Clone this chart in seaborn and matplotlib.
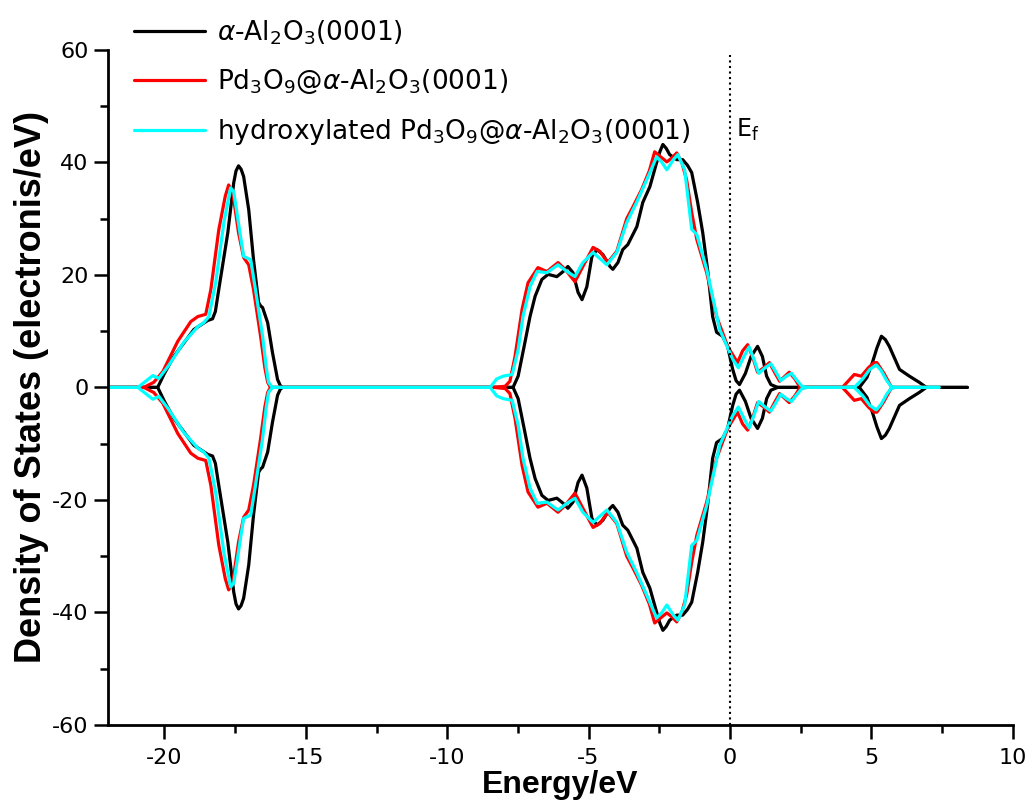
import numpy as np
import matplotlib
matplotlib.use("Agg")
import matplotlib.pyplot as plt
from matplotlib.ticker import MultipleLocator
import seaborn as sns

# spin-up DOS; spin-down is drawn as the mirror (negative) of it
al2o3_e = [-22, -20.24, -20.0, -19.67, -18.96, -18.47, -18.3, -18.2, -18.08, -17.76, -17.55, -17.47, -17.38,
           -17.29, -17.2, -17.02, -16.85, -16.67, -16.6, -16.53, -16.35, -16.18, -16.0, -15.9, -15.82,
           -7.67, -7.49, -7.25, -7.07, -6.89, -6.65, -6.43, -6.12, -5.9, -5.73, -5.55, -5.37, -5.23,
           -5.06, -4.88, -4.7, -4.49, -4.24, -4.14, -3.96, -3.79, -3.61, -3.29, -3.08, -2.83, -2.59,
           -2.47, -2.37, -2.25, -2.13, -1.88, -1.67, -1.5, -1.35, -1.14, -0.96, -0.79, -0.61, -0.47,
           -0.26, -0.08, 0.1, 0.22, 0.34, 0.55, 0.75, 0.98, 1.15, 1.3, 1.45, 1.69,
           4.58, 4.85, 5.04, 5.2, 5.36, 5.5, 5.64, 6.0, 6.35, 6.7, 6.95, 8.4]
al2o3_dos = [0, 0, 2.5, 5.5, 10.3, 11.9, 12.2, 13.5, 17.4, 27.5, 36.4, 38.5, 39.4,
             38.8, 37.5, 31.6, 22.7, 15.1, 14.5, 14.2, 11.5, 6.2, 1.4, 0.3, 0,
             0, 2.0, 8.0, 12.6, 16.2, 19.2, 20.1, 19.7, 20.6, 21.5, 20.4, 16.9, 15.6,
             17.9, 23.3, 24.5, 23.6, 21.5, 21.0, 22.2, 24.5, 25.4, 28.6, 32.9, 35.7, 40.0,
             42.0, 43.2, 42.5, 41.4, 40.5, 40.5, 39.5, 38.2, 32.9, 27.5, 21.0, 12.6, 9.8,
             9.1, 7.3, 3.2, 1.2, 0.5, 2.5, 5.5, 7.3, 5.5, 2.0, 0.5, 0,
             0, 1.8, 4.4, 7.0, 9.1, 8.5, 7.3, 3.2, 2.0, 0.9, 0, 0]

pd_e = [-22, -20.73, -20.38, -20.06, -19.53, -19.07, -18.82, -18.54, -18.36, -18.08, -17.85, -17.73,
        -17.59, -17.38, -17.2, -17.02, -16.85, -16.6, -16.45, -16.35, -16.25,
        -8.36, -7.95, -7.78, -7.6, -7.35, -7.14, -6.79, -6.47, -6.08, -5.83, -5.48, -5.2, -4.84,
        -4.6, -4.32, -4.0, -3.65, -3.43, -3.12, -2.85, -2.66, -2.45, -2.23, -2.05, -1.88, -1.7,
        -1.53, -1.35, -1.17, -0.82, -0.47, -0.08, 0.27, 0.45, 0.63, 0.8, 0.98, 1.2, 1.4, 1.58,
        1.76, 1.95, 2.1, 2.3, 2.46, 2.7,
        3.98, 4.2, 4.4, 4.65, 4.9, 5.1, 5.2, 5.45, 5.7, 5.8, 7.0]
pd_dos = [0, 0, 0.9, 2.8, 8.2, 11.7, 12.6, 13.0, 17.4, 28.0, 34.0, 36.0,
          34.8, 27.5, 23.1, 21.8, 17.4, 9.1, 3.5, 0.9, 0,
          0, 0.2, 1.1, 5.5, 13.9, 18.6, 21.3, 20.6, 22.2, 21.0, 18.8, 21.5, 24.9,
          24.2, 22.2, 24.2, 30.0, 32.1, 35.2, 38.5, 41.9, 41.0, 40.1, 40.8, 41.7, 40.0,
          36.9, 31.1, 26.3, 20.4, 12.6, 7.3, 4.4, 6.5, 7.6, 5.5, 2.7, 3.5, 4.4, 2.7,
          1.1, 2.0, 2.7, 1.5, 0.2, 0,
          0, 1.2, 2.3, 2.0, 3.5, 4.4, 4.4, 2.5, 0.2, 0, 0]

hyd_e = [-22, -20.94, -20.59, -20.41, -20.2, -19.88, -19.32, -18.82, -18.61, -18.43, -18.19, -17.9,
         -17.66, -17.55, -17.31, -17.2, -16.95, -16.78, -16.53, -16.4, -16.32, -16.18,
         -8.48, -8.25, -8.02, -7.7, -7.49, -7.32, -7.07, -6.82, -6.47, -6.08, -5.76, -5.48, -5.2,
         -4.84, -4.35, -4.0, -3.65, -3.29, -2.83, -2.59, -2.4, -2.23, -2.0, -1.84, -1.6, -1.35,
         -1.17, -0.82, -0.36, 0.1, 0.3, 0.5, 0.68, 0.85, 1.02, 1.25, 1.45, 1.62, 1.8, 2.0, 2.18,
         2.38, 2.55, 2.75,
         4.4, 4.7, 4.95, 5.18, 5.35, 5.55, 5.7, 5.85, 7.4]
hyd_dos = [0, 0, 1.4, 2.1, 1.6, 3.7, 8.0, 10.8, 11.5, 12.6, 18.6, 29.3,
           35.5, 34.8, 26.8, 23.3, 22.7, 17.4, 9.1, 3.5, 0.9, 0,
           0, 1.5, 2.0, 2.3, 6.7, 12.6, 17.9, 20.6, 20.4, 21.8, 20.6, 19.7, 22.2,
           24.0, 21.8, 24.0, 29.3, 33.0, 38.2, 41.0, 40.0, 38.7, 40.5, 41.4, 38.7, 28.1,
           27.2, 21.0, 10.3, 5.0, 3.5, 5.5, 7.2, 5.0, 2.5, 3.5, 4.2, 2.8, 1.2, 2.0, 2.5,
           1.2, 0.2, 0,
           0, 1.5, 3.2, 4.0, 3.0, 1.2, 0.2, 0, 0]

series = [
    (al2o3_e, al2o3_dos, "black", r"$\alpha$-Al$_2$O$_3$(0001)"),
    (pd_e, pd_dos, "#ff0000", r"Pd$_3$O$_9$@$\alpha$-Al$_2$O$_3$(0001)"),
    (hyd_e, hyd_dos, "#00ffff", r"hydroxylated Pd$_3$O$_9$@$\alpha$-Al$_2$O$_3$(0001)"),
]

sns.set_style("ticks")
plt.rcParams["font.family"] = ["DejaVu Sans"]
plt.rcParams["mathtext.fontset"] = "dejavusans"
plt.rcParams["axes.unicode_minus"] = False
for k in ["text.color", "axes.labelcolor", "xtick.color", "ytick.color", "axes.edgecolor"]:
    plt.rcParams[k] = "black"

fig = plt.figure(figsize=(10.28, 8), dpi=100)
ax = fig.add_axes([0.105, 0.094, 0.88, 0.8435])

for e, dos, col, lab in series:
    sns.lineplot(x=e, y=dos, color=col, lw=2.3, ax=ax, label=lab, sort=False)
    sns.lineplot(x=e, y=-np.array(dos), color=col, lw=2.3, ax=ax, sort=False)

ax.axvline(0, color="black", ls=":", lw=1.5, ymax=0.993)
ax.text(0.2, 44.5, r"E$_\mathrm{f}$", fontsize=17)

ax.set_xlim(-22, 10)
ax.set_ylim(-60, 60)
ax.xaxis.set_major_locator(MultipleLocator(5))
ax.xaxis.set_minor_locator(MultipleLocator(2.5))
ax.yaxis.set_major_locator(MultipleLocator(20))
ax.yaxis.set_minor_locator(MultipleLocator(10))
ax.tick_params(which="major", length=10, width=1.8, labelsize=16, pad=4)
ax.tick_params(axis="x", which="major", pad=7)
ax.tick_params(which="minor", length=5.5, width=1.8)
sns.despine(ax=ax)
for s in ["left", "bottom"]:
    ax.spines[s].set_linewidth(2)

ax.set_xlabel("Energy/eV", fontsize=23, fontweight="bold", family="Liberation Sans", labelpad=1)
ax.set_ylabel("Density of States (electronis/eV)", fontsize=26, fontweight="bold",
              family="Liberation Sans", labelpad=2)

ax.get_legend().remove()
handles, labels = ax.get_legend_handles_labels()
fig.legend(handles, labels, loc="upper left", bbox_to_anchor=(0.107, 1.007), frameon=False,
           fontsize=19, handlelength=2.7, labelspacing=0.78, handletextpad=0.45)

fig.savefig("out.png", dpi=100)
